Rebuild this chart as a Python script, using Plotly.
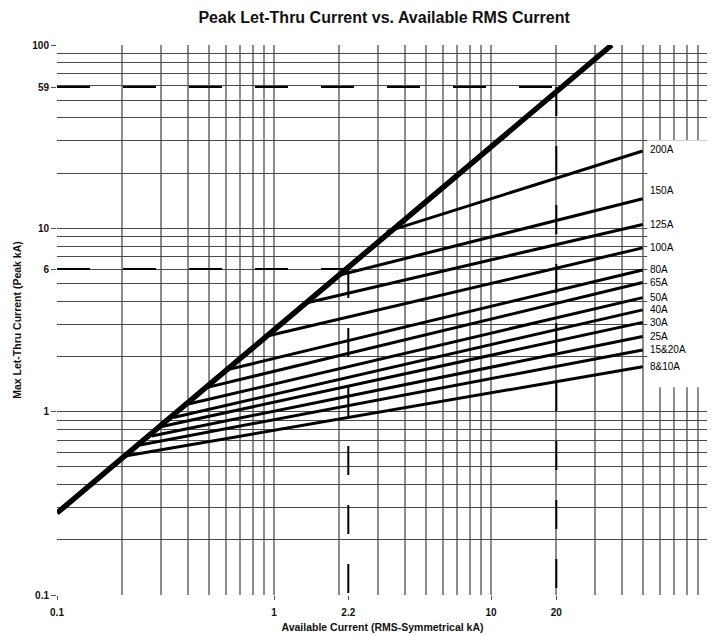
import numpy as np
import plotly.graph_objects as go

# ---- data ----
letthru_x = [0.1, 36.0]
letthru_y = [0.28, 100.0]

fuse_labels = ["200A", "150A", "125A", "100A", "80A", "65A", "50A", "40A", "30A", "25A", "15&20A", "8&10A"]
fuse_start_x = [3.31, 2.01, 1.39, 0.91, 0.605, 0.472, 0.403, 0.344, 0.304, 0.273, 0.241, 0.206]
fuse_start_y = [9.6, 5.57, 3.90, 2.57, 1.69, 1.34, 1.10, 0.93, 0.83, 0.737, 0.658, 0.573]
fuse_end_x = [50, 50, 50, 50, 50, 50, 50, 50, 50, 50, 50, 50]
fuse_end_y = [26.4, 14.5, 10.5, 7.82, 5.93, 5.06, 4.19, 3.59, 3.07, 2.57, 2.17, 1.76]

x_tick_vals = [0.1, 1, 2.2, 10, 20, 100]
x_tick_text = ["0.1", "1", "2.2", "10", "20", "100"]
y_tick_vals = [0.1, 1, 6, 10, 59, 100]
y_tick_text = ["0.1", "1", "6", "10", "59", "100"]

ref_x = [2.2, 20]
ref_y = [6, 59]

grid_vals = [m * 10.0 ** e for e in (-1, 0, 1) for m in range(1, 10)] + [100.0]

FONT = "Liberation Sans, Arial, sans-serif"

fig = go.Figure()

# thick envelope line
fig.add_trace(go.Scatter(x=letthru_x, y=letthru_y, mode="lines",
                         line=dict(color="black", width=5.5), showlegend=False, hoverinfo="skip"))

# fuse lines
for i, lab in enumerate(fuse_labels):
    fig.add_trace(go.Scatter(x=[fuse_start_x[i], fuse_end_x[i]], y=[fuse_start_y[i], fuse_end_y[i]],
                             mode="lines", line=dict(color="black", width=3),
                             showlegend=False, name=lab))
    fig.add_annotation(x=np.log10(fuse_end_x[i]), y=np.log10(fuse_end_y[i]), xref="x", yref="y",
                       text=lab, showarrow=False, xanchor="left", yanchor="middle",
                       xshift=5, yshift=(8 if lab == "150A" else 2 if lab == "200A" else 0),
                       font=dict(family=FONT, size=10, color="black"))

# dashed reference lines (on overlay axes carrying the reference ticks)
for rx, ry in zip(ref_x, ref_y):
    fig.add_trace(go.Scatter(x=[0.1, rx], y=[ry, ry], mode="lines", xaxis="x2", yaxis="y2",
                             line=dict(color="black", width=2, dash="33px,33px"),
                             showlegend=False, hoverinfo="skip"))
    fig.add_trace(go.Scatter(x=[rx, rx], y=[ry, 0.1], mode="lines", xaxis="x2", yaxis="y2",
                             line=dict(color="black", width=2, dash="29px,30px"),
                             showlegend=False, hoverinfo="skip"))

# white label box masking the grid at the right
fig.add_shape(type="rect", xref="x", yref="y", x0=52.5, x1=130, y0=1.36, y1=30.2,
              fillcolor="white", line=dict(width=0), layer="between")

fig.update_layout(
    width=707, height=627,
    margin=dict(l=49, r=7, t=37, b=40, autoexpand=False),
    paper_bgcolor="white", plot_bgcolor="white",
    title=dict(text="<b>Peak Let-Thru Current vs. Available RMS Current</b>",
               x=0.532, xanchor="center", y=1 - 9 / 627, yanchor="middle",
               font=dict(family=FONT, size=16, color="#111")),
    xaxis=dict(type="log", range=[-1, 2], tickmode="array", tickvals=grid_vals,
               showticklabels=False, ticks="", showgrid=True, gridcolor="#8c8c8c", gridwidth=1.5,
               zeroline=False, showline=False, automargin=False),
    yaxis=dict(type="log", range=[-1, 2], tickmode="array", tickvals=grid_vals,
               showticklabels=False, ticks="", showgrid=True, gridcolor="#4a4a4a", gridwidth=1,
               zeroline=False, showline=False, automargin=False),
    xaxis2=dict(type="log", range=[-1, 2], overlaying="x", anchor="y2", side="bottom",
                tickmode="array", tickvals=x_tick_vals, ticktext=x_tick_text,
                ticks="outside", ticklen=4, tickcolor="#555", showgrid=False, zeroline=False, showline=False,
                automargin=False, ticklabelstandoff=4,
                tickfont=dict(family=FONT, size=10, color="#111", weight="bold"),
                title=dict(text="<b>Available Current (RMS-Symmetrical kA)</b>", standoff=6,
                           font=dict(family=FONT, size=10.5, color="#111"))),
    yaxis2=dict(type="log", range=[-1, 2], overlaying="y", anchor="x2", side="left",
                tickmode="array", tickvals=y_tick_vals, ticktext=y_tick_text,
                ticks="outside", ticklen=5, tickcolor="#555", showgrid=False, zeroline=False, showline=False,
                automargin=False,
                tickfont=dict(family=FONT, size=10, color="#111", weight="bold"),
                title=dict(text="<b>Max Let-Thru Current (Peak kA)</b>", standoff=8,
                           font=dict(family=FONT, size=10.5, color="#111"))),
)

fig.write_html("out.html")
